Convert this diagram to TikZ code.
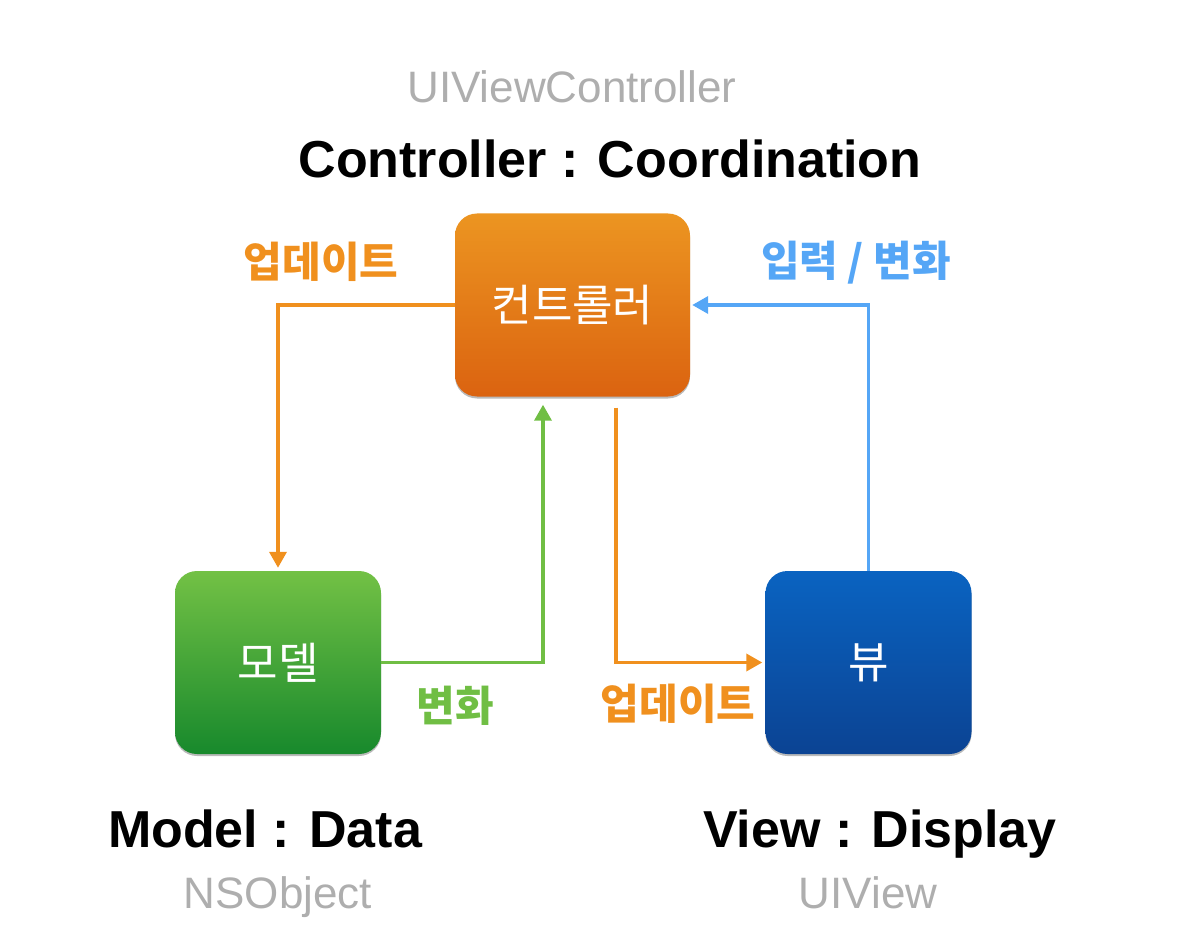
\documentclass[tikz,border=0pt]{standalone}
\usepackage{fontspec}
\setmainfont{Liberation Sans}
\newfontfamily\kr{Noto Sans CJK KR}
\usetikzlibrary{arrows.meta,shadows}

\definecolor{ctrltop}{HTML}{EC9521}
\definecolor{ctrlbot}{HTML}{DB6310}
\definecolor{modeltop}{HTML}{73C145}
\definecolor{modelbot}{HTML}{17892C}
\definecolor{viewtop}{HTML}{0A63C1}
\definecolor{viewbot}{HTML}{0B4393}
\definecolor{updorange}{HTML}{F0901E}
\definecolor{chggreen}{HTML}{70BE44}
\definecolor{inblue}{HTML}{55A6F6}
\definecolor{lightgray}{HTML}{AEAEAE}

\tikzset{
  mvcbox/.style={rectangle, rounded corners=22pt, minimum width=206pt, minimum height=183pt,
    text=white, font=\kr\fontsize{44}{48}\selectfont,
    drop shadow={shadow xshift=0pt, shadow yshift=-2pt, opacity=0.45, fill=black!60}},
  link/.style={line width=3.5pt, -{Triangle[length=16pt,width=17pt]}},
  linklabel/.style={font=\kr\bfseries\fontsize{42}{46}\selectfont},
  role/.style={anchor=base, font=\bfseries\fontsize{52}{56}\selectfont},
  cls/.style={anchor=base, text=lightgray, font=\fontsize{44}{48}\selectfont}
}

\begin{document}
\begin{tikzpicture}[x=1pt, y={(0,-1pt)}]
    \useasboundingbox (0,0) rectangle (1184,936);

    % Boxes
    \node[mvcbox, minimum width=235pt, top color=ctrltop, bottom color=ctrlbot] (ctrl) at (572.5,305) {컨트롤러};
    \node[mvcbox, top color=modeltop, bottom color=modelbot] (model) at (278,662.5) {모델};
    \node[mvcbox, top color=viewtop, bottom color=viewbot] (view) at (868.5,662.5) {뷰};

    % Titles
    \node[cls] (ctrlcls) at (572,103) {UIViewController};
    \node[role] (ctrlrole) at (610,178) {Controller : Coordination};
    \node[role] (modelrole) at (265,847) {Model : Data};
    \node[cls] (modelcls) at (278,908) {NSObject};
    \node[role] (viewrole) at (880,847) {View : Display};
    \node[cls] (viewcls) at (868,908) {UIView};

    % Controller -> Model (update)
    \draw[link, updorange, shorten >=3pt] (ctrl.west) -| (model.north);
    \node[linklabel, text=updorange] (upd1) at (321,262) {업데이트};

    % Model -> Controller (change)
    \draw[link, chggreen, shorten >=8pt] (model.east) -| ([xshift=-29.5pt]ctrl.south);
    \node[linklabel, text=chggreen] (chg) at (455,706) {변화};

    % Controller -> View (update)
    \draw[link, updorange, shorten <=11pt, shorten >=3pt] ([xshift=43.5pt]ctrl.south) |- (view.west);
    \node[linklabel, text=updorange] (upd2) at (678,704) {업데이트};

    % View -> Controller (input / change)
    \draw[link, inblue, shorten >=2pt] (view.north) |- (ctrl.east);
    \node[linklabel, text=inblue] (inp) at (856,263) {입력 / 변화};
\end{tikzpicture}
\end{document}
